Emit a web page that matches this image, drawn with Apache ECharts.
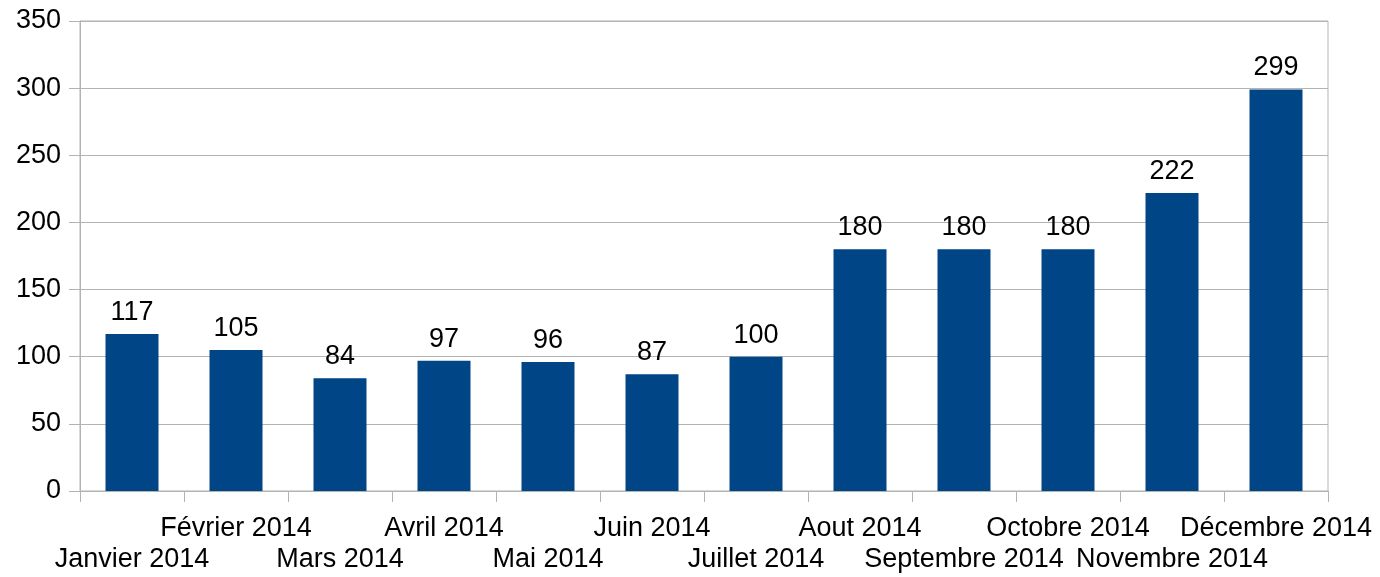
<!DOCTYPE html>
<html><head><meta charset="utf-8">
<script src="https://cdn.jsdelivr.net/npm/echarts@6/dist/echarts.min.js"></script>
<style>html,body{margin:0;padding:0;background:#fff}#c{width:1380px;height:577px}</style>
</head><body><div id="c"></div>
<script>
const categories = ['Janvier 2014','Février 2014','Mars 2014','Avril 2014','Mai 2014','Juin 2014','Juillet 2014','Aout 2014','Septembre 2014','Octobre 2014','Novembre 2014','Décembre 2014'];
const values = [117,105,84,97,96,87,100,180,180,180,222,299];
const yTicks = [0,50,100,150,200,250,300,350];

const chart = echarts.init(document.getElementById('c'));
const font = '"Liberation Sans", Arial, sans-serif';
chart.setOption({
  animation: false,
  grid: {left: 80, right: 52, top: 21, bottom: 86, show: true, borderColor: '#b3b3b3', borderWidth: 1, backgroundColor: 'transparent'},
  xAxis: {
    type: 'category', data: categories,
    axisLine: {lineStyle: {color: '#b3b3b3', width: 1}},
    axisTick: {show: true, length: 11, alignWithLabel: false, lineStyle: {color: '#b3b3b3'}},
    axisLabel: {
      interval: 0, margin: 22, color: '#000', fontFamily: font, fontSize: 27, lineHeight: 31,
      formatter: (v, i) => (i % 2 === 0 ? '\n' + v : v)
    }
  },
  yAxis: {
    type: 'value', min: yTicks[0], max: yTicks[yTicks.length-1], interval: 50,
    axisLine: {show: true, lineStyle: {color: '#b3b3b3', width: 1}},
    axisTick: {show: true, length: 11, lineStyle: {color: '#b3b3b3'}},
    splitLine: {lineStyle: {color: '#b3b3b3', width: 1}},
    axisLabel: {margin: 19, color: '#000', fontFamily: font, fontSize: 27}
  },
  series: [{
    type: 'bar', data: values, barWidth: 53,
    itemStyle: {color: '#004586'},
    label: {show: true, position: 'top', distance: 8, color: '#000', fontFamily: font, fontSize: 27}
  }]
});
</script></body></html>
